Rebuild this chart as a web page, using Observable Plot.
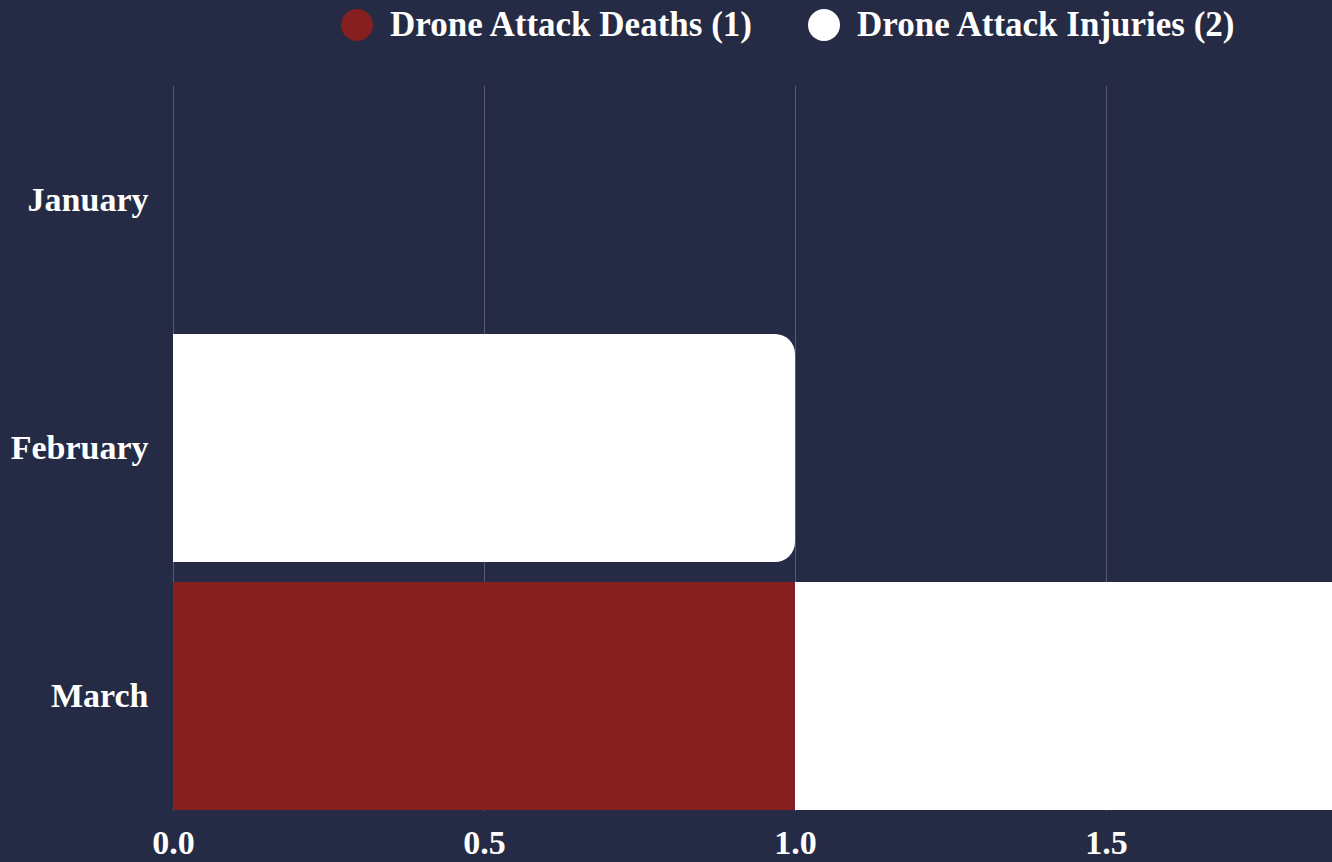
<!DOCTYPE html>
<html>
<head>
<meta charset="utf-8">
<script src="https://cdn.jsdelivr.net/npm/d3@7"></script>
<script src="https://cdn.jsdelivr.net/npm/@observablehq/plot@0.6"></script>
<style>
  html, body { margin: 0; padding: 0; background: #252b44; overflow: hidden; }
  body { width: 1332px; height: 862px; font-family: "Liberation Serif", serif; font-weight: bold; color: #fff; }
  #legend { height: 61px; position: relative; }
  .item { position: absolute; top: 5px; display: flex; align-items: center; font-size: 35px; white-space: nowrap; }
  .dot { width: 32px; height: 32px; border-radius: 50%; margin-right: 17px; }
  #chart svg { display: block; overflow: hidden; }
</style>
</head>
<body>
<div id="legend"></div>
<div id="chart"></div>
<script>
const months = ["January", "February", "March"];
const deaths = [0, 0, 1];
const injuries = [0, 1, 1];
const seriesNames = ["Drone Attack Deaths", "Drone Attack Injuries"];
const seriesColors = ["#861f1f", "#ffffff"];
const xTicks = [0, 0.5, 1, 1.5];

const totals = [d3.sum(deaths), d3.sum(injuries)];
// stacked table built from the arrays (deaths first, injuries on top)
const deathRows = months.map((m, i) => ({month: m, series: seriesNames[0], x1: 0, x2: deaths[i]}));
const injuryRows = months.map((m, i) => ({month: m, series: seriesNames[1], x1: deaths[i], x2: deaths[i] + injuries[i]}));

const legend = document.getElementById("legend");
const legendX = [341, 808];
seriesNames.forEach((s, i) => {
  const it = document.createElement("div");
  it.className = "item";
  it.style.left = legendX[i] + "px";
  it.innerHTML = `<span class="dot" style="background:${seriesColors[i]}"></span><span>${s} (${totals[i]})</span>`;
  legend.appendChild(it);
});

const plot = Plot.plot({
  width: 1332,
  height: 801,
  marginTop: 25,
  marginBottom: 51,
  marginLeft: 173,
  marginRight: 0,
  style: {background: "#252b44", color: "#fff", fontFamily: "Liberation Serif, serif", fontWeight: "bold", fontSize: "34px", overflow: "hidden"},
  x: {domain: [0, 1159 / 622], ticks: xTicks, tickFormat: d3.format(".1f"), tickSize: 0, tickPadding: 18, label: null},
  y: {domain: months, paddingInner: 0.08, paddingOuter: 0, tickSize: 0, tickPadding: 25, label: null},
  color: {domain: seriesNames, range: seriesColors},
  marks: [
    Plot.gridX(xTicks, {stroke: "#565b70", strokeOpacity: 1, strokeWidth: 1}),
    Plot.barX(deathRows.filter(d => d.x2 > d.x1), {x1: "x1", x2: "x2", y: "month", fill: "series", clip: true}),
    Plot.barX(injuryRows.filter(d => d.x2 > d.x1), {x1: "x1", x2: "x2", y: "month", fill: "series", clip: true, rx2: 20})
  ]
});
document.getElementById("chart").appendChild(plot);
</script>
</body>
</html>
